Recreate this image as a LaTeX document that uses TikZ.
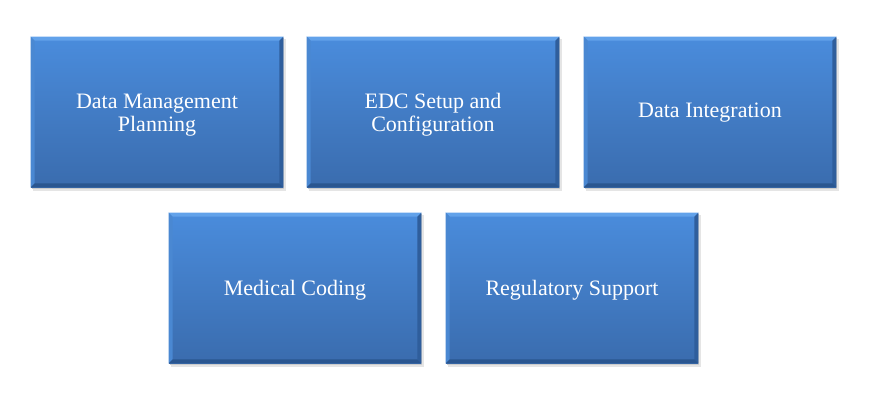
\documentclass[tikz,border=0pt]{standalone}
\usepackage{fontspec}
\setmainfont{Liberation Serif}
\usetikzlibrary{calc}
\definecolor{boxtop}{HTML}{4A8CDC}
\definecolor{boxbot}{HTML}{3A6CAE}
\definecolor{bevtop}{HTML}{62A2EA}
\definecolor{bevleft}{HTML}{4A88D2}
\definecolor{bevright}{HTML}{2F5E9C}
\definecolor{bevbot}{HTML}{2A5690}
\tikzset{
  px/.style={x=0.75pt,y=-0.75pt},
  card/.style={minimum width=189pt,minimum height=112.5pt,inner sep=0pt,
    top color=boxtop,bottom color=boxbot,draw=none},
  label/.style={text=white,font=\fontsize{16.5}{17.5}\selectfont,align=center,inner sep=0pt},
}
\newcommand{\bevel}[1]{%
  \fill[bevtop] (#1.north west) -- (#1.north east) -- ($(#1.north east)+(-3pt,-3pt)$) -- ($(#1.north west)+(3pt,-3pt)$) -- cycle;
  \fill[bevleft] (#1.north west) -- ($(#1.north west)+(3pt,-3pt)$) -- ($(#1.south west)+(3pt,3pt)$) -- (#1.south west) -- cycle;
  \fill[bevright] (#1.north east) -- ($(#1.north east)+(-3pt,-3pt)$) -- ($(#1.south east)+(-3pt,3pt)$) -- (#1.south east) -- cycle;
  \fill[bevbot] (#1.south west) -- ($(#1.south west)+(3pt,3pt)$) -- ($(#1.south east)+(-3pt,3pt)$) -- (#1.south east) -- cycle;
}
\begin{document}
\begin{tikzpicture}[px]
\useasboundingbox (0,0) rectangle (879,400);
\foreach \x/\y in {157/112, 433/112, 710/112, 295/288, 572/288}{
  \fill[black!10] ($(\x,\y)+(-124,-73)$) rectangle ($(\x,\y)+(129,79)$);
  \fill[black!20] ($(\x,\y)+(-125,-74)$) rectangle ($(\x,\y)+(127,77)$);
}
\node[card] (a) at (157,112) {};
\node[card] (b) at (433,112) {};
\node[card] (c) at (710,112) {};
\node[card] (d) at (295,288) {};
\node[card] (e) at (572,288) {};
\foreach \n in {a,b,c,d,e}{\bevel{\n}}
\node[label] (ta) at (157,115) {Data Management\\Planning};
\node[label] (tb) at (433,115) {EDC Setup and\\Configuration};
\node[label] (tc) at (710,113) {Data Integration};
\node[label] (td) at (295,290) {Medical Coding};
\node[label] (te) at (572,290) {Regulatory Support};
\end{tikzpicture}
\end{document}
